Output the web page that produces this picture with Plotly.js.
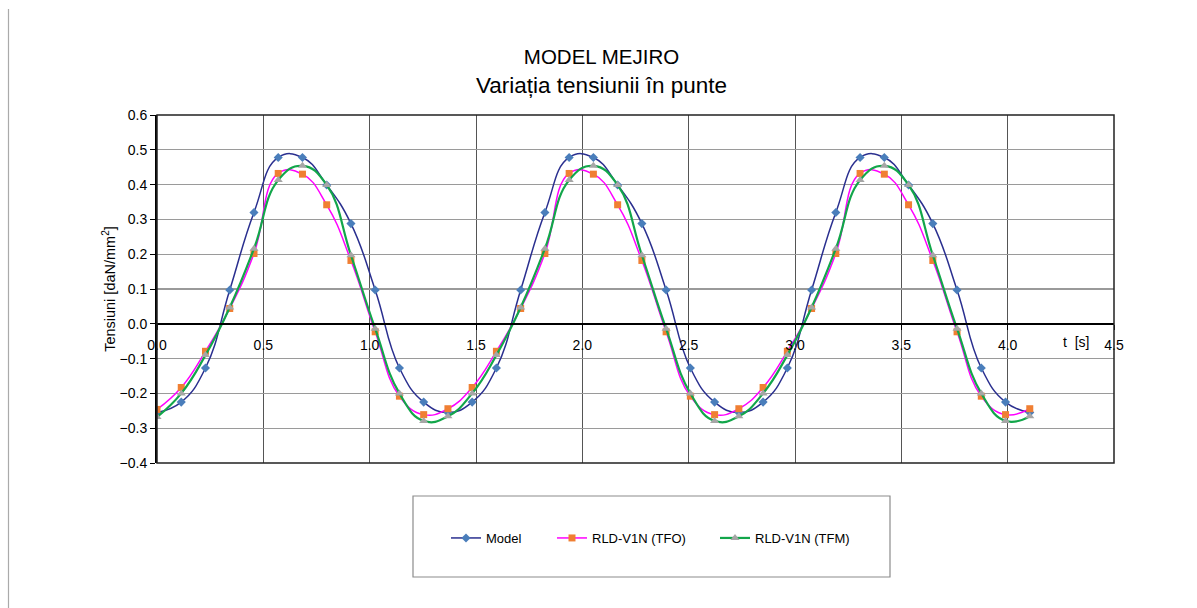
<!DOCTYPE html>
<html>
<head>
<meta charset="utf-8">
<script src="https://cdn.plot.ly/plotly-3.0.1.min.js"></script>
<style>html,body{margin:0;padding:0;background:#fff;}#chart{width:1197px;height:608px;}</style>
</head>
<body>
<div id="chart"></div>
<script>
// time samples [s]
var timeS = [0.000, 0.114, 0.228, 0.342, 0.456, 0.570, 0.684, 0.798, 0.912, 1.026, 1.140, 1.254,
             1.368, 1.482, 1.596, 1.710, 1.824, 1.938, 2.052, 2.166, 2.280, 2.394, 2.508, 2.622,
             2.736, 2.850, 2.964, 3.078, 3.192, 3.306, 3.420, 3.534, 3.648, 3.762, 3.876, 3.990, 4.104];

var model = [-0.255, -0.225, -0.127, 0.097, 0.320, 0.478, 0.478, 0.399, 0.288, 0.097, -0.127, -0.225,
             -0.255, -0.225, -0.127, 0.097, 0.320, 0.478, 0.478, 0.399, 0.288, 0.097, -0.127, -0.225,
             -0.255, -0.225, -0.127, 0.097, 0.320, 0.478, 0.478, 0.399, 0.288, 0.097, -0.127, -0.225, -0.255];

var rldTFO = [-0.246, -0.183, -0.079, 0.044, 0.202, 0.432, 0.430, 0.342, 0.182, -0.023, -0.208, -0.261,
              -0.244, -0.183, -0.079, 0.044, 0.202, 0.432, 0.430, 0.342, 0.182, -0.023, -0.208, -0.261,
              -0.244, -0.183, -0.079, 0.044, 0.202, 0.432, 0.430, 0.342, 0.182, -0.023, -0.208, -0.261, -0.244];

var rldTFM = [-0.268, -0.200, -0.090, 0.047, 0.216, 0.413, 0.454, 0.399, 0.197, -0.014, -0.200, -0.279,
              -0.266, -0.200, -0.090, 0.047, 0.216, 0.413, 0.454, 0.399, 0.197, -0.014, -0.200, -0.279,
              -0.266, -0.200, -0.090, 0.047, 0.216, 0.413, 0.454, 0.399, 0.197, -0.014, -0.200, -0.279, -0.266];

var seriesNames = ["Model", "RLD-V1N (TFO)", "RLD-V1N (TFM)"];
var xTickVals = [0, 0.5, 1.0, 1.5, 2.0, 2.5, 3.0, 3.5, 4.0, 4.5];
var xTickText = ["0.0", "0.5", "1.0", "1.5", "2.0", "2.5", "3.0", "3.5", "4.0", "4.5"];
var titleLine1 = "MODEL MEJIRO";
var titleLine2 = "Variația tensiunii în punte";
var yTitle = "Tensiuni [daN/mm<sup>2</sup>]";
var xUnit = "t  [s]";

var FONT = "'Liberation Sans', Arial, sans-serif";

var traces = [
  {x: timeS, y: model, name: seriesNames[0], type: "scatter", mode: "lines+markers",
   line: {color: "#2a2f8f", width: 1.5, shape: "spline", smoothing: 1.3},
   marker: {symbol: "diamond", size: 7, color: "#4a7ebb"}, legend: "legend"},
  {x: timeS, y: rldTFO, name: seriesNames[1], type: "scatter", mode: "lines+markers",
   line: {color: "#ff00ff", width: 1.5, shape: "spline", smoothing: 1.3},
   marker: {symbol: "square", size: 7, color: "#f07f33"}, legend: "legend2"},
  {x: timeS, y: rldTFM, name: seriesNames[2], type: "scatter", mode: "lines+markers",
   line: {color: "#12a64a", width: 2.2, shape: "spline", smoothing: 1.3},
   marker: {symbol: "triangle-up", size: 8, color: "#a6a6a6"}, legend: "legend3"}
];

function legendAt(xp) {
  return {x: xp, xanchor: "left", y: -0.2155, yanchor: "middle", bgcolor: "rgba(0,0,0,0)",
          borderwidth: 0, font: {family: FONT, size: 13, color: "#000"}, orientation: "h"};
}

var layout = {
  width: 1197, height: 608,
  paper_bgcolor: "#fff", plot_bgcolor: "#fff",
  margin: {l: 157, r: 83, t: 115, b: 145},
  font: {family: FONT, color: "#000"},
  title: {text: "<span style='font-size:20.5px'>" + titleLine1 + "</span><br>" + titleLine2,
          font: {family: FONT, size: 22.5, color: "#000"},
          x: 0.5025, xanchor: "center", xref: "container", y: 1 - 64 / 608, yanchor: "top", yref: "container"},
  xaxis: {range: [0, 4.5], tickvals: xTickVals, ticktext: xTickText,
          anchor: "free", position: 0.4, showline: true, linecolor: "#000", linewidth: 2,
          ticks: "outside", ticklen: 5, tickcolor: "#000", ticklabelstandoff: 3,
          showgrid: true, gridcolor: "#555", gridwidth: 1, zeroline: false,
          tickfont: {family: FONT, size: 14, color: "#000"}, fixedrange: true},
  yaxis: {range: [-0.4, 0.6], dtick: 0.1, tickformat: ".1f", domain: [0, 1],
          showline: true, linecolor: "#000", linewidth: 2,
          ticks: "outside", ticklen: 5, tickcolor: "#000",
          showgrid: true, gridcolor: "#9a9a9a", gridwidth: 1.3,
          zeroline: true, zerolinecolor: "#000", zerolinewidth: 2,
          tickfont: {family: FONT, size: 14, color: "#000"},
          title: {text: yTitle, font: {family: FONT, size: 14.5, color: "#000"}, standoff: 0}, fixedrange: true},
  showlegend: true,
  legend: legendAt((446 - 157) / 957),
  legend2: legendAt((552 - 157) / 957),
  legend3: legendAt((715 - 157) / 957),
  shapes: [
    {type: "rect", xref: "paper", yref: "paper", x0: 0, x1: 1, y0: 0, y1: 1,
     line: {color: "#222", width: 1.5}, fillcolor: "rgba(0,0,0,0)", layer: "above"},
    {type: "rect", xref: "paper", yref: "paper", x0: (413 - 157) / 957, x1: (890 - 157) / 957,
     y0: (463 - 577) / 348, y1: (463 - 496) / 348, line: {color: "#8c8c8c", width: 1.2}, fillcolor: "rgba(0,0,0,0)"},
    {type: "line", xref: "paper", yref: "paper", x0: (8.5 - 157) / 957, x1: (8.5 - 157) / 957,
     y0: (463 - 9) / 348, y1: (463 - 608) / 348, line: {color: "#aaaaaa", width: 1.2}}
  ],
  annotations: [
    {text: xUnit, xref: "x", yref: "y", x: 4.32, y: 0, yanchor: "top", yshift: -8,
     showarrow: false, font: {family: FONT, size: 14, color: "#000"}}
  ]
};

Plotly.newPlot("chart", traces, layout, {displayModeBar: false, staticPlot: true});
</script>
</body>
</html>
